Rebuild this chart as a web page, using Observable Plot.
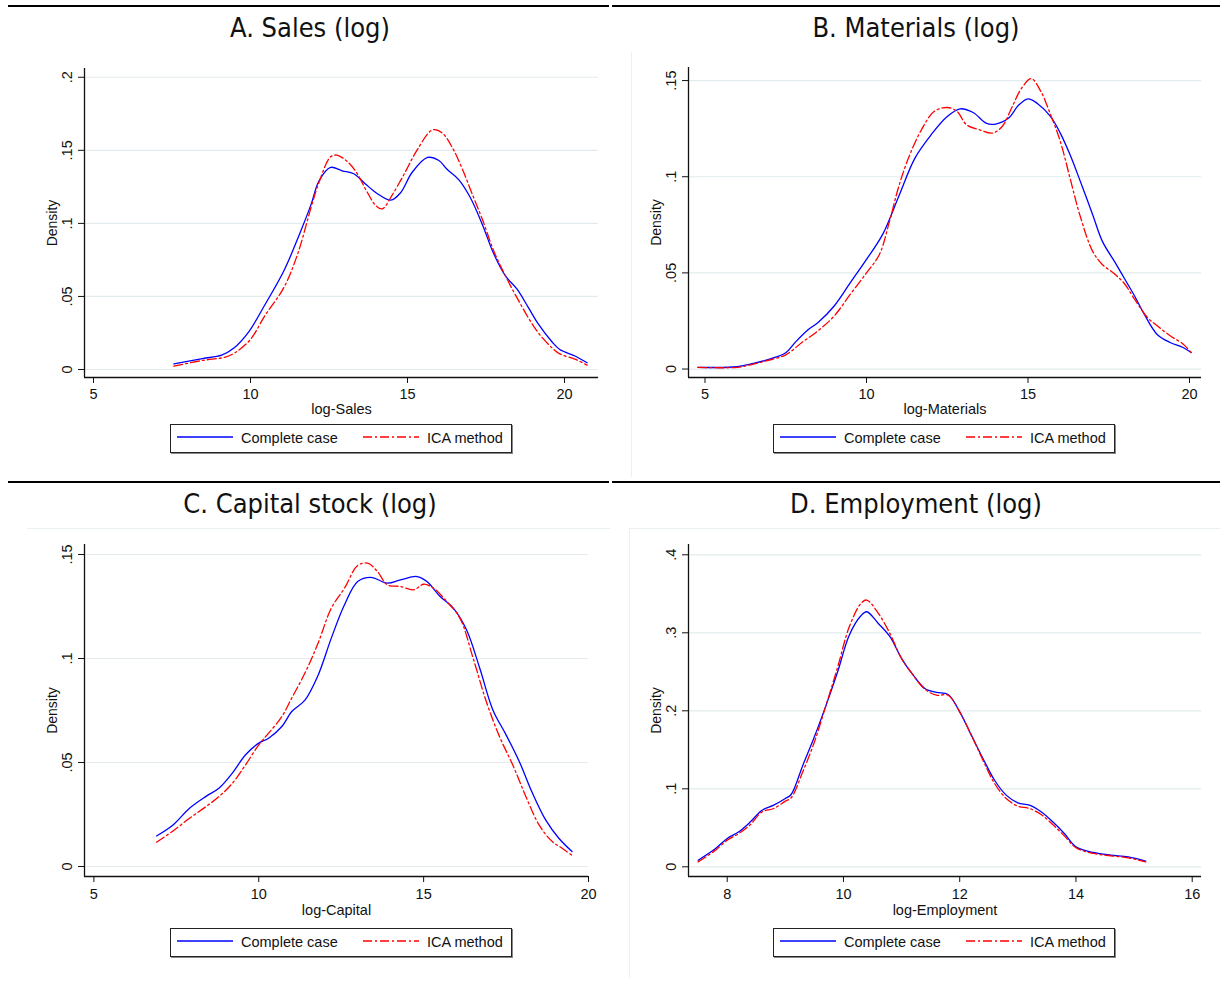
<!DOCTYPE html>
<html>
<head>
<meta charset="utf-8">
<script src="https://cdn.jsdelivr.net/npm/d3@7"></script>
<script src="https://cdn.jsdelivr.net/npm/@observablehq/plot@0.6"></script>
<style>
  body { margin: 0; background: #fff; }
  #wrap { position: relative; width: 1220px; height: 982px; overflow: hidden; background: #fff;
          font-family: "Liberation Sans", Arial, sans-serif; color: #111; }
  .rule { position: absolute; height: 2px; background: #000; }
  .faint { position: absolute; background: #eaf1f3; }
  .title { position: absolute; width: 600px; text-align: center; font-family: "DejaVu Sans Condensed", "DejaVu Sans", sans-serif;
           font-size: 27px; line-height: 32px; color: #111; white-space: nowrap; }
  .panel { position: absolute; }
  .legend { position: absolute; width: 340px; height: 27px; border: 1px solid #222; box-shadow: 1px 1px 0 #888;
            background: #fff; font-size: 14.5px; }
  .legend span { position: absolute; top: 5px; white-space: nowrap; }
  .legend svg { position: absolute; top: 9px; }
</style>
</head>
<body>
<div id="wrap"></div>
<script>
// ---------- data ----------
const panelTitles = ["A. Sales (log)", "B. Materials (log)", "C. Capital stock (log)", "D. Employment (log)"];
const xLabels = ["log-Sales", "log-Materials", "log-Capital", "log-Employment"];
const seriesNames = ["Complete case", "ICA method"];

const salesXTicks = [5, 10, 15, 20];
const salesYTicks = [0, 0.05, 0.1, 0.15, 0.2];
const salesCompleteX = [7.56, 8.47, 9.08, 9.46, 9.95, 10.45, 11.06, 11.56, 11.93, 12.18, 12.55, 12.92, 13.29, 13.66, 14.03, 14.47, 14.78, 15.15, 15.64, 16.0, 16.26, 16.63, 17.0, 17.38, 17.75, 18.12, 18.49, 18.86, 19.17, 19.6, 19.85, 20.35, 20.72];
const salesCompleteY = [0.0039, 0.0075, 0.0098, 0.0145, 0.026, 0.044, 0.0674, 0.0926, 0.113, 0.129, 0.1383, 0.136, 0.134, 0.127, 0.1205, 0.1159, 0.121, 0.135, 0.1451, 0.143, 0.137, 0.130, 0.1177, 0.0994, 0.079, 0.064, 0.055, 0.042, 0.031, 0.019, 0.0137, 0.0091, 0.0046];
const salesIcaX = [7.56, 8.47, 9.2, 9.5, 10.0, 10.45, 11.06, 11.5, 11.93, 12.18, 12.55, 12.75, 13.1, 13.4, 13.7, 14.0, 14.2, 14.5, 14.9, 15.3, 15.8, 16.1, 16.45, 16.75, 17.1, 17.38, 17.75, 18.12, 18.49, 18.86, 19.17, 19.6, 19.85, 20.35, 20.72];
const salesIcaY = [0.0023, 0.0062, 0.0085, 0.0114, 0.0206, 0.0366, 0.056, 0.079, 0.111, 0.128, 0.1456, 0.1467, 0.142, 0.134, 0.122, 0.112, 0.110, 0.119, 0.134, 0.150, 0.164, 0.162, 0.151, 0.137, 0.118, 0.103, 0.081, 0.064, 0.049, 0.035, 0.025, 0.0149, 0.0107, 0.0069, 0.003];

const matXTicks = [5, 10, 15, 20];
const matYTicks = [0, 0.05, 0.1, 0.15];
const matCompleteX = [4.78, 6.0, 6.5, 7.0, 7.5, 7.8, 8.2, 8.5, 9.0, 9.5, 10.0, 10.5, 11.0, 11.5, 12.0, 12.5, 12.9, 13.3, 13.7, 14.0, 14.4, 14.7, 15.0, 15.3, 15.7, 16.0, 16.3, 16.6, 17.0, 17.3, 17.7, 18.0, 18.3, 18.6, 19.0, 19.4, 19.8, 20.05];
const matCompleteY = [0.0009, 0.0012, 0.0029, 0.0052, 0.0085, 0.014, 0.0205, 0.0242, 0.0328, 0.0449, 0.057, 0.070, 0.0899, 0.1097, 0.1218, 0.1313, 0.1353, 0.1334, 0.1279, 0.1274, 0.1305, 0.137, 0.1405, 0.138, 0.1313, 0.1227, 0.1115, 0.0985, 0.0804, 0.0665, 0.0553, 0.0467, 0.038, 0.0285, 0.018, 0.0138, 0.0112, 0.0086];
const matIcaX = [4.78, 6.0, 6.5, 7.0, 7.5, 8.0, 8.5, 9.0, 9.5, 10.0, 10.4, 10.7, 11.0, 11.3, 11.7, 12.1, 12.5, 12.8, 13.1, 13.5, 13.9, 14.2, 14.5, 14.8, 15.1, 15.4, 15.7, 16.0, 16.3, 16.6, 17.0, 17.3, 17.7, 18.0, 18.3, 18.7, 19.0, 19.4, 19.8, 20.05];
const matIcaY = [0.0009, 0.0009, 0.0026, 0.0047, 0.0074, 0.0138, 0.0199, 0.0276, 0.0389, 0.050, 0.0596, 0.076, 0.095, 0.1097, 0.1244, 0.134, 0.136, 0.134, 0.127, 0.1244, 0.1227, 0.1261, 0.136, 0.146, 0.151, 0.1443, 0.1322, 0.1184, 0.0994, 0.0804, 0.0613, 0.0544, 0.0492, 0.0441, 0.0363, 0.0268, 0.0225, 0.0173, 0.013, 0.0086];

const capXTicks = [5, 10, 15, 20];
const capYTicks = [0, 0.05, 0.1, 0.15];
const capCompleteX = [6.9, 7.4, 7.9, 8.4, 8.8, 9.2, 9.6, 10.0, 10.3, 10.7, 11.0, 11.4, 11.8, 12.2, 12.6, 13.0, 13.4, 13.9, 14.3, 14.8, 15.1, 15.5, 15.9, 16.3, 16.7, 17.1, 17.5, 17.9, 18.3, 18.7, 19.1, 19.5];
const capCompleteY = [0.0147, 0.020, 0.028, 0.0337, 0.0377, 0.0449, 0.0537, 0.0593, 0.0617, 0.0673, 0.0745, 0.080, 0.092, 0.1098, 0.1258, 0.137, 0.139, 0.1362, 0.1378, 0.1394, 0.137, 0.1298, 0.1242, 0.1138, 0.0954, 0.0753, 0.0633, 0.0505, 0.0353, 0.0224, 0.0136, 0.0072];
const capIcaX = [6.9, 7.4, 7.9, 8.4, 8.8, 9.2, 9.6, 10.0, 10.3, 10.7, 11.0, 11.4, 11.8, 12.2, 12.6, 13.0, 13.3, 13.6, 13.9, 14.3, 14.7, 15.0, 15.3, 15.7, 16.1, 16.5, 16.9, 17.3, 17.7, 18.1, 18.5, 18.9, 19.2, 19.5];
const capIcaY = [0.0117, 0.0171, 0.0232, 0.0288, 0.0337, 0.040, 0.0489, 0.0585, 0.0641, 0.0721, 0.081, 0.093, 0.1074, 0.1242, 0.1338, 0.1447, 0.1458, 0.1418, 0.1354, 0.1346, 0.133, 0.1357, 0.1338, 0.1274, 0.1194, 0.1002, 0.0793, 0.0625, 0.0489, 0.0337, 0.020, 0.012, 0.0088, 0.0053];

const empXTicks = [8, 10, 12, 14, 16];
const empYTicks = [0, 0.1, 0.2, 0.3, 0.4];
const empX = [7.5, 7.8, 8.0, 8.2, 8.4, 8.6, 8.8, 9.0, 9.1, 9.3, 9.5, 9.7, 9.9, 10.1, 10.3, 10.4, 10.6, 10.8, 11.0, 11.2, 11.4, 11.6, 11.8, 12.0, 12.2, 12.4, 12.6, 12.8, 13.0, 13.2, 13.4, 13.6, 13.8, 14.0, 14.3, 14.6, 14.9, 15.2];
const empCompleteY = [0.0085, 0.0235, 0.0363, 0.0449, 0.0577, 0.0726, 0.079, 0.0876, 0.0927, 0.130, 0.1667, 0.207, 0.250, 0.297, 0.3218, 0.327, 0.312, 0.295, 0.267, 0.2457, 0.2286, 0.2235, 0.221, 0.1987, 0.1688, 0.1389, 0.111, 0.0919, 0.082, 0.079, 0.0705, 0.0577, 0.0427, 0.0256, 0.0184, 0.015, 0.0128, 0.0073];
const empIcaY = [0.0064, 0.0214, 0.0342, 0.0427, 0.0543, 0.0705, 0.0748, 0.0842, 0.0885, 0.1218, 0.160, 0.207, 0.256, 0.3077, 0.3376, 0.342, 0.325, 0.299, 0.267, 0.2457, 0.2278, 0.220, 0.220, 0.1987, 0.1688, 0.1368, 0.1068, 0.0876, 0.0778, 0.0748, 0.0671, 0.0543, 0.0397, 0.0244, 0.0171, 0.0141, 0.0115, 0.0064];

// ---------- layout ----------
const wrap = document.getElementById("wrap");
function addDiv(cls, style, html) {
  const d = document.createElement("div");
  d.className = cls;
  Object.assign(d.style, style);
  if (html != null) d.innerHTML = html;
  wrap.appendChild(d);
  return d;
}

// top rules and faint plot-region lines
addDiv("rule", {left: "8px", top: "5px", width: "601px"});
addDiv("rule", {left: "612px", top: "5px", width: "608px"});
addDiv("rule", {left: "8px", top: "481px", width: "601px"});
addDiv("rule", {left: "612px", top: "481px", width: "608px"});
addDiv("faint", {left: "27px", top: "528px", width: "583px", height: "1px"});
addDiv("faint", {left: "629px", top: "528px", width: "591px", height: "1px"});
addDiv("faint", {left: "631px", top: "52px", width: "1px", height: "425px"});
addDiv("faint", {left: "629px", top: "528px", width: "1px", height: "450px"});

const fmtY = d => d === 0 ? "0" : String(d).replace(/^0/, "");

function pairs(xs, ys) { return xs.map((x, i) => ({x, y: ys[i]})); }

function panel(cfg) {
  const complete = pairs(cfg.cx, cfg.cy);
  const ica = pairs(cfg.ix, cfg.iy);
  return Plot.plot({
    width: cfg.w, height: cfg.h,
    marginLeft: cfg.ml, marginRight: cfg.mr, marginTop: cfg.mt, marginBottom: cfg.mb,
    style: {fontFamily: "'Liberation Sans', Arial, sans-serif", fontSize: "14.5px", color: "#111", background: "transparent", overflow: "visible"},
    x: {domain: cfg.xd},
    y: {domain: cfg.yd},
    marks: [
      Plot.gridY({ticks: cfg.yt, stroke: "#e2ebee", strokeOpacity: 1, strokeWidth: 1.2}),
      Plot.ruleX([cfg.xd[0]], {stroke: "#111", strokeWidth: 1.3}),
      Plot.ruleY([cfg.yd[0]], {stroke: "#111", strokeWidth: 1.3}),
      Plot.axisX({ticks: cfg.xt, tickSize: 6, tickPadding: cfg.tp, fontSize: 14.5, label: null, stroke: "#111"}),
      Plot.axisY({ticks: cfg.yt, tickSize: 6, tickFormat: () => "", label: null, stroke: "#111"}),
      Plot.text(cfg.yt, {y: d => d, text: fmtY, frameAnchor: "left", dx: -17, rotate: -90,
                         textAnchor: "middle", lineAnchor: "middle", fontSize: 14.5, fill: "#111"}),
      Plot.text(["Density"], {frameAnchor: "left", dx: -32, rotate: -90, textAnchor: "middle",
                              lineAnchor: "middle", fontSize: 14, fill: "#111"}),
      Plot.text([cfg.xlabel], {frameAnchor: "bottom", dy: cfg.xlo, textAnchor: "middle",
                               lineAnchor: "middle", fontSize: 14.5, fill: "#111"}),
      Plot.line(complete, {x: "x", y: "y", stroke: "#0000ff", strokeWidth: 1.3, curve: "catmull-rom"}),
      Plot.line(ica, {x: "x", y: "y", stroke: "#ff0000", strokeWidth: 1.3, strokeDasharray: "9,3,2,3", curve: "catmull-rom"})
    ]
  });
}

const panels = [
  {left: 0, top: 60, w: 610, h: 370, ml: 84, mr: 12, mt: 8, mb: 53, tp: 5, xlo: 32,
   xd: [4.713, 21.083], yd: [-0.00547, 0.206], xt: salesXTicks, yt: salesYTicks,
   cx: salesCompleteX, cy: salesCompleteY, ix: salesIcaX, iy: salesIcaY, xlabel: xLabels[0]},
  {left: 610, top: 60, w: 610, h: 370, ml: 78, mr: 19, mt: 7, mb: 53, tp: 5, xlo: 32,
   xd: [4.489, 20.372], yd: [-0.0044, 0.1568], xt: matXTicks, yt: matYTicks,
   cx: matCompleteX, cy: matCompleteY, ix: matIcaX, iy: matIcaY, xlabel: xLabels[1]},
  {left: 0, top: 536, w: 610, h: 400, ml: 84, mr: 22, mt: 8, mb: 60, tp: 6, xlo: 34,
   xd: [4.715, 20.0], yd: [-0.0048, 0.1548], xt: capXTicks, yt: capYTicks,
   cx: capCompleteX, cy: capCompleteY, ix: capIcaX, iy: capIcaY, xlabel: xLabels[2]},
  {left: 610, top: 536, w: 610, h: 400, ml: 78, mr: 19, mt: 8, mb: 60, tp: 6, xlo: 34,
   xd: [7.334, 16.16], yd: [-0.0124, 0.4132], xt: empXTicks, yt: empYTicks,
   cx: empX, cy: empCompleteY, ix: empX, iy: empIcaY, xlabel: xLabels[3]}
];

const titlePos = [[10, 12], [616, 12], [10, 488], [616, 488]];
const legendPos = [[170, 424], [773, 424], [170, 928], [773, 928]];

panels.forEach((cfg, i) => {
  addDiv("title", {left: titlePos[i][0] + "px", top: titlePos[i][1] + "px"}, panelTitles[i]);
  const holder = addDiv("panel", {left: cfg.left + "px", top: cfg.top + "px"});
  holder.appendChild(panel(cfg));
  const lg = addDiv("legend", {left: legendPos[i][0] + "px", top: legendPos[i][1] + "px"});
  lg.innerHTML =
    `<svg width="58" height="6" style="left:5px"><line x1="1" y1="3" x2="57" y2="3" stroke="#0000ff" stroke-width="1.3"/></svg>` +
    `<span style="left:70px">${seriesNames[0]}</span>` +
    `<svg width="58" height="6" style="left:191px"><line x1="1" y1="3" x2="57" y2="3" stroke="#ff0000" stroke-width="1.3" stroke-dasharray="9,3,2,3"/></svg>` +
    `<span style="left:256px">${seriesNames[1]}</span>`;
});
</script>
</body>
</html>
